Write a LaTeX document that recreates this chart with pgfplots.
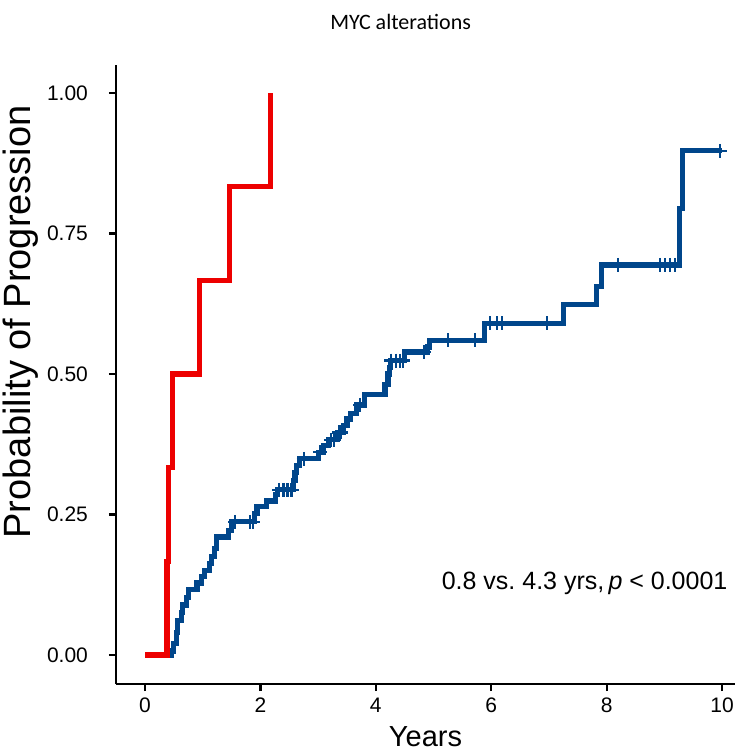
\documentclass[border=0pt]{standalone}
\usepackage{fontspec}
\setmainfont{Liberation Sans}
\newfontfamily\titlefont{Carlito}
\usepackage{pgfplots}
\pgfplotsset{compat=1.18}
\definecolor{lancetblue}{HTML}{00468B}
\definecolor{lancetred}{HTML}{ED0000}
\begin{document}
\begin{tikzpicture}
\useasboundingbox (-58pt,-33.5pt) rectangle (310pt,342pt);
\begin{axis}[
  at={(0,0)}, anchor=south west,
  scale only axis, width=309.5pt, height=309.5pt,
  xmin=-0.503, xmax=10.225, ymin=-0.0516, ymax=1.0498,
  axis x line*=bottom, axis y line*=left,
  axis line style={line width=1.2pt, -},
  tick align=outside, major tick length=3.5pt,
  tick style={line width=1.1pt, black},
  xtick={0,2,4,6,8,10}, ytick={0,0.25,0.5,0.75,1},
  yticklabels={0.00,0.25,0.50,0.75,1.00},
  /pgf/number format/assume math mode=true,
  ticklabel style={font=\fontsize{10.5}{12}\selectfont},
  yticklabel style={xshift=-7pt},
  xlabel={Years}, ylabel={Probability of Progression},
  xlabel style={font=\fontsize{14.5}{16}\selectfont, at={(axis description cs:0.5,-0.0856)}, anchor=center},
  ylabel style={font=\fontsize{19}{22}\selectfont, at={(axis description cs:-0.1535,0.585)}, anchor=center},
  clip=false,
]
\addplot[const plot, color=lancetblue, line width=2.6pt] table {
x y
0 0
0.45 0.007
0.50 0.02
0.54 0.04
0.56 0.062
0.63 0.075
0.65 0.089
0.72 0.103
0.75 0.116
0.90 0.128
0.98 0.14
1.03 0.15
1.12 0.163
1.15 0.175
1.20 0.19
1.24 0.21
1.44 0.222
1.50 0.237
1.90 0.252
1.94 0.264
2.11 0.274
2.26 0.285
2.30 0.294
2.58 0.31
2.60 0.325
2.62 0.337
2.68 0.349
3.01 0.361
3.10 0.373
3.18 0.383
3.33 0.396
3.44 0.408
3.50 0.42
3.56 0.43
3.67 0.445
3.80 0.463
4.16 0.481
4.21 0.50
4.24 0.512
4.25 0.524
4.50 0.539
4.90 0.548
4.93 0.56
5.89 0.59
7.25 0.623
7.83 0.655
7.91 0.694
9.27 0.795
9.32 0.897
10.0 0.897
};
\addplot[only marks, mark=+, mark size=3.5pt, color=lancetblue, mark options={line width=1.1pt}] table {
x y
1.56 0.237
1.82 0.237
1.87 0.237
2.32 0.294
2.40 0.294
2.47 0.294
2.54 0.294
2.75 0.349
3.03 0.361
3.22 0.383
3.28 0.383
3.37 0.396
3.40 0.396
3.73 0.445
4.27 0.524
4.35 0.524
4.42 0.524
4.47 0.524
4.83 0.539
5.25 0.56
5.72 0.56
5.98 0.59
6.10 0.59
6.18 0.59
6.97 0.59
8.20 0.694
8.93 0.694
9.01 0.694
9.10 0.694
9.19 0.694
9.97 0.897
};
\addplot[const plot, color=lancetred, line width=2.6pt] table {
x y
0 0
0.38 0.1667
0.41 0.3333
0.47 0.5
0.94 0.6667
1.46 0.8333
2.17 1.0
};
\node[anchor=east, inner sep=0pt, font=\fontsize{12.5}{14}\selectfont] at (axis cs:10.1,0.128) {0.8 vs.\ 4.3 yrs,\,\textit{p} < 0.0001};
\node[anchor=center, font=\titlefont\fontsize{11}{13}\selectfont] at (axis cs:4.43,1.126) {MYC alterations};
\end{axis}
\end{tikzpicture}
\end{document}
